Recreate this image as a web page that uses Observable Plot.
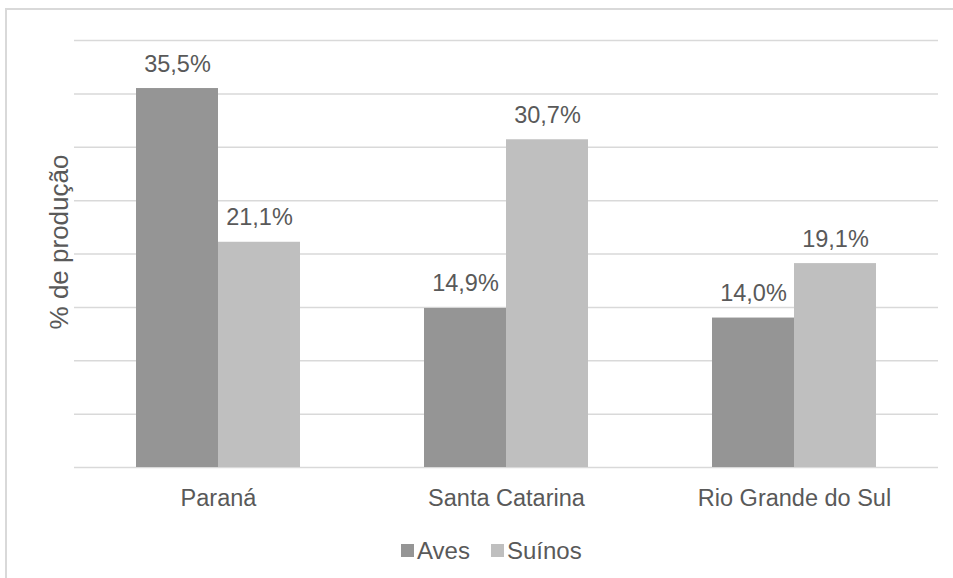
<!DOCTYPE html>
<html>
<head>
<meta charset="utf-8">
<script src="https://cdn.jsdelivr.net/npm/d3@7"></script>
<script src="https://cdn.jsdelivr.net/npm/@observablehq/plot@0.6"></script>
<style>
  html, body { margin: 0; padding: 0; background: #fff; overflow: hidden; }
  #wrap { position: relative; width: 953px; height: 578px; font-family: "Liberation Sans", Arial, sans-serif; color: #595959; }
  #frame { position: absolute; left: 5px; top: 8px; width: 1000px; height: 1000px; border: 2px solid #d9d9d9; box-sizing: border-box; pointer-events: none; }
  #chart { position: absolute; left: 0; top: 0; }
  #legend { position: absolute; left: 401px; top: 537px; display: flex; align-items: center; font-size: 24px; line-height: 27px; white-space: nowrap; }
  .sw { display: inline-block; width: 13px; height: 13px; margin-right: 3px; }
  .item { display: inline-flex; align-items: center; margin-right: 21px; }
</style>
</head>
<body>
<div id="wrap">
  <div id="chart"></div>
  <div id="frame"></div>
  <div id="legend"></div>
</div>
<script>
const states = ["Paraná", "Santa Catarina", "Rio Grande do Sul"];
const series = ["Aves", "Suínos"];
const aves = [35.5, 14.9, 14.0];
const suinos = [21.1, 30.7, 19.1];
const yTicks = [0, 5, 10, 15, 20, 25, 30, 35, 40];
const colors = ["#959595", "#bfbfbf"];
const yLabel = "% de produção";

const data = [];
states.forEach((s, i) => {
  data.push({state: s, series: "Aves", value: aves[i]});
  data.push({state: s, series: "Suínos", value: suinos[i]});
});
const fmt = v => v.toFixed(1).replace(".", ",") + "%";

const chart = Plot.plot({
  width: 953,
  height: 525,
  marginLeft: 73,
  marginRight: 15,
  marginTop: 40,
  marginBottom: 58,
  style: {fontSize: "23.5px", fontFamily: "Liberation Sans, Arial, sans-serif", color: "#595959", background: "transparent"},
  fx: {domain: states, padding: 0, axis: "bottom", tickSize: 0, tickPadding: 22, label: null},
  x: {domain: series, paddingInner: 0, paddingOuter: 0.75, axis: null},
  y: {domain: [0, 40], axis: null},
  color: {domain: series, range: colors},
  marks: [
    Plot.ruleY(yTicks, {stroke: "#d9d9d9", strokeWidth: 1.5}),
    Plot.barY(data, {fx: "state", x: "series", y: "value", fill: "series"}),
    Plot.text(data, {fx: "state", x: "series", y: "value", text: d => fmt(d.value), lineAnchor: "bottom", dy: -17, fontSize: 23.5, fill: "#595959"}),
    Plot.text([{state: states[0]}], {fx: "state", frameAnchor: "left", text: () => yLabel, textAnchor: "middle", rotate: -90, dx: -15, dy: -12, fontSize: 26, fill: "#595959"})
  ]
});
document.getElementById("chart").appendChild(chart);

const legend = document.getElementById("legend");
series.forEach((s, i) => {
  const item = document.createElement("span");
  item.className = "item";
  const sw = document.createElement("span");
  sw.className = "sw";
  sw.style.background = colors[i];
  item.appendChild(sw);
  item.appendChild(document.createTextNode(s));
  legend.appendChild(item);
});
</script>
</body>
</html>
